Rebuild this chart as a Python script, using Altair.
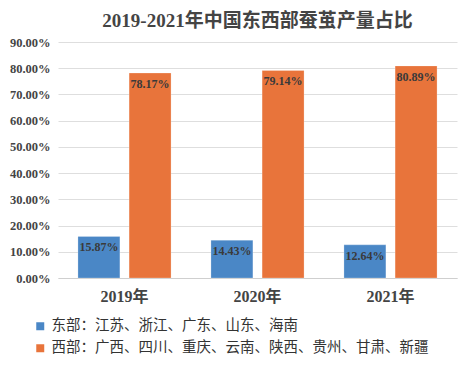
import altair as alt
import pandas as pd

years = ["2019年", "2020年", "2021年"]
east = [15.87, 14.43, 12.64]
west = [78.17, 79.14, 80.89]
series = ["东部：江苏、浙江、广东、山东、海南", "西部：广西、四川、重庆、云南、陕西、贵州、甘肃、新疆"]
colors = ["#4a87c6", "#e8743b"]

rows = []
for i, y in enumerate(years):
    rows.append({"year": y, "series": series[0], "v": east[i] / 100})
    rows.append({"year": y, "series": series[1], "v": west[i] / 100})
df = pd.DataFrame(rows)

serif = "Liberation Serif, Noto Sans CJK SC"

x = alt.X("year:N", sort=years, title=None,
          scale=alt.Scale(paddingInner=0.3, paddingOuter=0.15),
          axis=alt.Axis(labelAngle=0, labelFont=serif, labelFontSize=16, labelFontWeight="bold",
                        labelColor="#444", labelPadding=10, ticks=False, domain=True,
                        domainColor="#cfcfcf"))
xo = alt.XOffset("series:N", sort=series, scale=alt.Scale(paddingInner=0.18, paddingOuter=0))
y = alt.Y("v:Q", title=None, scale=alt.Scale(domain=[0, 0.9], nice=False),
          axis=alt.Axis(format=".2%", values=[i / 10 for i in range(10)], labelFont=serif,
                        labelFontSize=12.5, labelFontWeight="bold", labelColor="#444",
                        labelPadding=8, ticks=False, domain=False, gridColor="#dedede"))

bars = alt.Chart(df).mark_bar(strokeWidth=0.8, stroke="#ffffff", strokeOpacity=0.3).encode(
    x=x, xOffset=xo, y=y,
    color=alt.Color("series:N", sort=series, scale=alt.Scale(domain=series, range=colors),
                    legend=alt.Legend(title=None, orient="none", legendX=-25, legendY=277,
                                      symbolType="square", symbolSize=90, labelFontSize=14.5,
                                      labelFont="Noto Sans CJK SC", labelColor="#333",
                                      rowPadding=6, labelLimit=500))
)

labels = alt.Chart(df).mark_text(baseline="top", dy=6, font=serif, fontSize=12,
                                 fontWeight="bold", color="#3a3a3a").encode(
    x=x, xOffset=xo, y=y, text=alt.Text("v:Q", format=".2%")
)

chart = (bars + labels).properties(
    width=399, height=236,
    padding={"left": 50, "top": 34, "right": 2, "bottom": 80},
    autosize=alt.AutoSizeParams(type="none"),
    title=alt.Title("2019-2021年中国东西部蚕茧产量占比", font=serif, fontSize=19,
                    fontWeight="bold", color="#444", offset=5),
).configure_view(stroke=None)

chart.save("out.html", embed_options={"renderer": "svg", "actions": False})
